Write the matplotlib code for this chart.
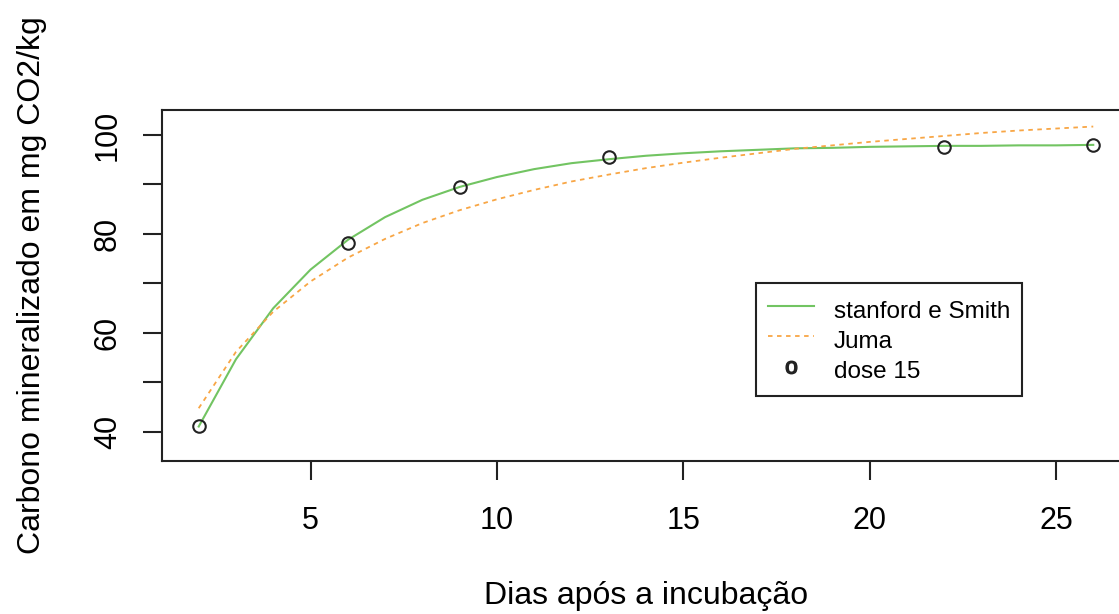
import matplotlib.pyplot as plt
from matplotlib.lines import Line2D

plt.rcParams['font.family'] = ['Liberation Sans', 'DejaVu Sans']

# observed points (dose 15)
dias = [2, 6, 9, 13, 22, 26]
carbono = [41.2, 78.2, 89.5, 95.6, 97.6, 98.0]

# fitted curves
dias_curva = [2, 3, 4, 5, 6, 7, 8, 9, 10, 11, 12, 13, 14,
              15, 16, 17, 18, 19, 20, 21, 22, 23, 24, 25, 26]
stanford = [41.1, 54.7, 65.0, 72.8, 78.8, 83.4, 86.9, 89.5, 91.5, 93.1, 94.3, 95.1, 95.8,
            96.3, 96.7, 97.0, 97.3, 97.4, 97.6, 97.7, 97.8, 97.8, 97.9, 97.9, 98.0]
juma = [44.8, 56.2, 64.3, 70.4, 75.2, 79.0, 82.2, 84.8, 87.0, 88.9, 90.6, 92.0, 93.3,
        94.4, 95.4, 96.3, 97.2, 97.9, 98.6, 99.2, 99.8, 100.4, 100.9, 101.3, 101.7]

xticks = [5, 10, 15, 20, 25]
yticks = [40, 50, 60, 70, 80, 90, 100]
ylabels = ['40', '', '60', '', '80', '', '100']

verde = '#72c462'
laranja = '#f8a645'
eixo = '#222222'

fig = plt.figure(figsize=(11.19, 6.14), dpi=100)
ax = fig.add_axes([0.1448, 0.2492, 0.865, 0.5717])

ax.plot(dias_curva, stanford, color=verde, lw=1.5)
ax.plot(dias_curva, juma, color=laranja, lw=1.3, linestyle=(0, (2.5, 2.5)))
ax.plot(dias, carbono, 'o', mfc='none', mec='#222222', mew=1.5, ms=9)

ax.set_xlim(1.016, 26.985)
ax.set_ylim(34.14, 105.05)

ax.set_xticks(xticks)
ax.set_yticks(yticks)
ax.set_yticklabels(ylabels)
ax.tick_params(axis='both', length=13.7, width=1.5, color=eixo, labelsize=22)
ax.tick_params(axis='x', pad=19)
ax.tick_params(axis='y', pad=14.5, labelrotation=90)
for lab in ax.get_yticklabels():
    lab.set_va('center')

for s in ax.spines.values():
    s.set_color(eixo)
    s.set_linewidth(1.5)

ax.set_xlabel('Dias após a incubação', fontsize=23, labelpad=32)
ax.set_ylabel('Carbono mineralizado em mg CO2/kg', fontsize=23, labelpad=33)

# legend
handles = [
    Line2D([], [], color=verde, lw=1.5),
    Line2D([], [], color=laranja, lw=1.3, linestyle=(0, (2.5, 2.5))),
    Line2D([], [], linestyle='none', marker=r'$\mathregular{o}$', color='#222222', ms=9),
]
leg = ax.legend(handles, ['stanford e Smith', 'Juma', 'dose 15'],
                loc='upper left', bbox_to_anchor=(756 / 1119, 1 - 283 / 614),
                bbox_transform=fig.transFigure, fontsize=17.5, frameon=True,
                fancybox=False, framealpha=1, edgecolor=eixo, borderpad=0.5,
                labelspacing=0.05, handlelength=1.9, handleheight=1.45,
                handletextpad=0.8, borderaxespad=0)
leg.get_frame().set_linewidth(1.5)

fig.savefig('out.png', dpi=100)
